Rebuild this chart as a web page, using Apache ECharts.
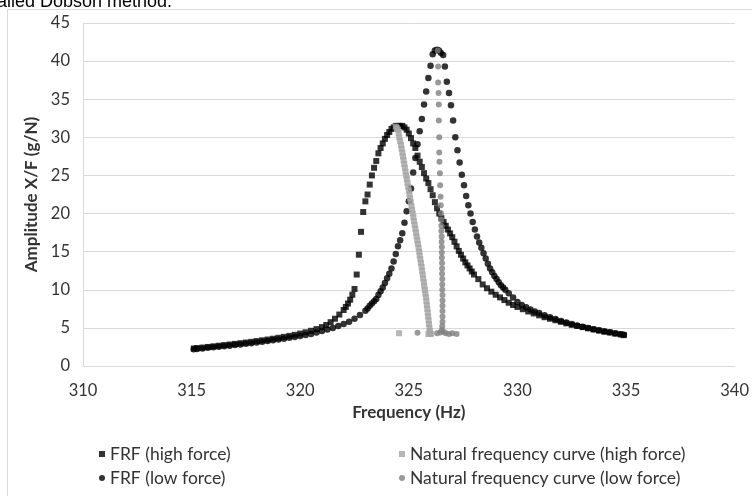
<!DOCTYPE html>
<html>
<head>
<meta charset="utf-8">
<script src="https://cdn.jsdelivr.net/npm/echarts@6/dist/echarts.min.js"></script>
<style>
  html, body { margin: 0; padding: 0; background: #ffffff; }
  #chart { width: 752px; height: 496px; }
</style>
</head>
<body>
<div id="chart"></div>
<script>
// ---- Data ----
const xTicks = [310, 315, 320, 325, 330, 335, 340];
const yTicks = [0, 5, 10, 15, 20, 25, 30, 35, 40, 45];

const seriesNames = [
  'FRF (high force)',
  'Natural frequency curve (high force)',
  'FRF (low force)',
  'Natural frequency curve (low force)'
];

// FRF (high force)
const frfHighFreq = [
  315.1, 315.25, 315.5, 315.75, 316.0, 316.25, 316.5, 316.75, 317.0, 317.25, 317.5, 317.75,
  318.0, 318.25, 318.5, 318.75, 319.0, 319.25, 319.5, 319.75, 320.0, 320.25, 320.5, 320.75,
  321.0, 321.2, 321.4, 321.6, 321.8, 322.0, 322.1, 322.2, 322.3, 322.4, 322.5, 322.6,
  322.7, 322.8, 322.9, 323.0, 323.1, 323.2, 323.3, 323.4, 323.5, 323.6, 323.7, 323.8,
  323.9, 324.0, 324.1, 324.2, 324.3, 324.4, 324.5, 324.6, 324.7, 324.8, 324.9, 325.0,
  325.1, 325.2, 325.3, 325.4, 325.5, 325.6, 325.7, 325.8, 325.9, 326.0, 326.1, 326.2,
  326.3, 326.4, 326.5, 326.6, 326.7, 326.8, 326.9, 327.0, 327.1, 327.2, 327.3, 327.4,
  327.5, 327.6, 327.7, 327.8, 327.9, 328.0, 328.2, 328.4, 328.6, 328.8, 329.0, 329.2,
  329.4, 329.6, 329.8, 330.0, 330.25, 330.5, 330.75, 331.0, 331.25, 331.5, 331.75, 332.0,
  332.25, 332.5, 332.75, 333.0, 333.25, 333.5, 333.75, 334.0, 334.25, 334.5, 334.75, 334.9
];
const frfHighAmp = [
  2.3, 2.35, 2.42, 2.5, 2.58, 2.66, 2.74, 2.82, 2.9, 2.99, 3.08, 3.17,
  3.27, 3.37, 3.47, 3.58, 3.7, 3.82, 3.95, 4.09, 4.25, 4.42, 4.62, 4.84,
  5.1, 5.38, 5.75, 6.2, 6.75, 7.35, 7.75, 8.2, 8.7, 9.35, 10.1, 12.0,
  14.6, 17.6, 20.2, 21.6, 22.5, 23.8, 25.0, 26.0, 26.9, 27.9, 28.6, 29.2,
  29.8, 30.3, 30.7, 31.1, 31.3, 31.5, 31.5, 31.5, 31.5, 31.3, 31.0, 30.5,
  29.9, 29.2, 28.6, 27.6, 26.8, 26.1, 25.3, 24.6, 24.0, 23.2, 22.4, 21.5,
  20.7, 20.0, 19.4, 18.9, 18.4, 17.9, 17.4, 16.9, 16.3, 15.7, 15.1, 14.6,
  14.1, 13.6, 13.2, 12.8, 12.4, 12.0, 11.4, 10.7, 10.2, 9.75, 9.35, 9.0,
  8.65, 8.3, 8.0, 7.75, 7.45, 7.15, 6.9, 6.65, 6.4, 6.2, 6.0, 5.8,
  5.6, 5.4, 5.25, 5.1, 4.95, 4.8, 4.65, 4.5, 4.4, 4.25, 4.15, 4.05
];

// FRF (low force)
const frfLowFreq = [
  315.1, 315.25, 315.5, 315.75, 316.0, 316.25, 316.5, 316.75, 317.0, 317.25, 317.5, 317.75,
  318.0, 318.25, 318.5, 318.75, 319.0, 319.25, 319.5, 319.75, 320.0, 320.25, 320.5, 320.75,
  321.0, 321.25, 321.5, 321.75, 322.0, 322.25, 322.5, 322.75, 323.0, 323.1, 323.2, 323.3,
  323.4, 323.5, 323.6, 323.7, 323.8, 323.9, 324.0, 324.1, 324.2, 324.3, 324.4, 324.5,
  324.6, 324.7, 324.8, 324.9, 325.0, 325.1, 325.2, 325.3, 325.4, 325.5, 325.6, 325.7,
  325.8, 325.9, 326.0, 326.1, 326.2, 326.3, 326.38, 326.47, 326.58, 326.66, 326.75, 326.85,
  326.94, 327.04, 327.14, 327.24, 327.34, 327.44, 327.54, 327.64, 327.74, 327.84, 327.94, 328.04,
  328.14, 328.24, 328.34, 328.44, 328.54, 328.64, 328.74, 328.84, 328.94, 329.04, 329.14, 329.24,
  329.34, 329.44, 329.6, 329.8, 330.0, 330.2, 330.4, 330.6, 330.8, 331.0, 331.25, 331.5,
  331.75, 332.0, 332.25, 332.5, 332.75, 333.0, 333.25, 333.5, 333.75, 334.0, 334.25, 334.5,
  334.75, 334.9
];
const frfLowAmp = [
  2.2, 2.24, 2.31, 2.38, 2.45, 2.52, 2.59, 2.67, 2.75, 2.83, 2.91, 3.0,
  3.09, 3.18, 3.27, 3.37, 3.47, 3.58, 3.69, 3.81, 3.94, 4.07, 4.21, 4.4,
  4.6, 4.8, 5.0, 5.25, 5.5, 5.8, 6.2, 6.7, 7.25, 7.55, 7.9, 8.2,
  8.5, 8.8, 9.3, 9.8, 10.3, 10.9, 11.5, 12.1, 12.8, 13.7, 14.7, 15.7,
  16.5, 17.4, 18.8, 20.3, 21.6, 23.3, 25.4, 27.3, 29.1, 30.8, 32.4, 34.3,
  36.0, 37.8, 39.4, 40.9, 41.4, 41.5, 41.4, 41.1, 40.8, 39.3, 37.3, 35.8,
  34.2, 32.2, 30.0, 28.3, 26.7, 25.1, 23.7, 22.3, 21.1, 20.0, 18.9, 17.9,
  17.0, 16.2, 15.5, 14.8, 14.1, 13.4, 12.8, 12.3, 11.8, 11.4, 11.0, 10.6,
  10.3, 10.0, 9.55, 9.0, 8.4, 8.0, 7.7, 7.4, 7.15, 6.95, 6.65, 6.4,
  6.15, 5.9, 5.7, 5.5, 5.32, 5.15, 4.98, 4.83, 4.68, 4.55, 4.42, 4.3,
  4.18, 4.1
];

// Natural frequency curve (high force)
const nfHighFreq = [
  324.40, 324.45, 324.50, 324.53, 324.56, 324.60, 324.64, 324.67, 324.70, 324.73, 324.76, 324.79,
  324.82, 324.85, 324.88, 324.91, 324.94, 324.97, 325.00, 325.03, 325.06, 325.09, 325.12, 325.15,
  325.18, 325.21, 325.24, 325.27, 325.30, 325.33, 325.36, 325.39, 325.42, 325.45, 325.48, 325.50,
  325.53, 325.56, 325.59, 325.61, 325.64, 325.66, 325.69, 325.71, 325.74, 325.76, 325.79, 325.81,
  325.83, 325.85, 325.87, 325.89, 325.91, 325.93, 325.95, 325.97, 325.98, 325.90, 326.02, 324.55
];
const nfHighAmp = [
  31.4, 31.2, 31.0, 30.5, 30.0, 29.5, 29.0, 28.5, 28.0, 27.5, 27.0, 26.5,
  26.0, 25.5, 25.0, 24.5, 24.0, 23.5, 23.0, 22.5, 22.0, 21.5, 21.0, 20.5,
  20.0, 19.5, 19.0, 18.5, 18.0, 17.5, 17.0, 16.5, 16.0, 15.5, 15.0, 14.5,
  14.0, 13.5, 13.0, 12.5, 12.0, 11.5, 11.0, 10.5, 10.0, 9.5, 9.0, 8.5,
  8.0, 7.5, 7.0, 6.5, 6.0, 5.5, 5.0, 4.6, 4.3, 4.2, 4.2, 4.3
];

// Natural frequency curve (low force)
const nfLowFreq = [
  326.33, 326.35, 326.35, 326.37, 326.38, 326.38, 326.40, 326.40, 326.41, 326.43, 326.44, 326.46,
  326.47, 326.48, 326.49, 326.50, 326.50, 326.51, 326.51, 326.52, 326.52, 326.52, 326.53, 326.53,
  326.53, 326.54, 326.54, 326.54, 326.55, 326.55, 326.55, 326.55, 326.55, 326.55, 326.54, 326.52,
  326.45, 326.60, 326.70, 326.85, 327.00, 327.20, 325.40, 326.30
];
const nfLowAmp = [
  41.4, 39.3, 37.2, 35.8, 34.3, 32.2, 30.0, 28.0, 26.8, 25.3, 23.7, 22.2,
  21.1, 20.0, 19.2, 18.4, 17.7, 17.0, 16.3, 15.6, 14.9, 14.2, 13.5, 12.8,
  12.1, 11.4, 10.7, 10.0, 9.3, 8.6, 7.9, 7.2, 6.5, 5.8, 5.2, 4.7,
  4.4, 4.5, 4.3, 4.2, 4.3, 4.2, 4.35, 4.3
];

// ---- Chart ----
function pairs(xs, ys) { return xs.map((x, i) => [x, ys[i]]); }

const FONT = 'Lato';
const TXT = '#333333';
const chart = echarts.init(document.getElementById('chart'), null, { renderer: 'canvas' });

const option = {
  backgroundColor: '#ffffff',
  animation: false,
  textStyle: { fontFamily: FONT },
  graphic: [
    {
      type: 'text', silent: true,
      style: {
        x: 172, y: 11, text: 'detailed Dobson method.',
        textAlign: 'right', textVerticalAlign: 'bottom',
        font: '18px "Liberation Sans", Arial, sans-serif', fill: '#000000'
      }
    },
    {
      type: 'rect', silent: true,
      shape: { x: 7.5, y: 9.5, width: 800, height: 600 },
      style: { fill: 'none', stroke: '#d9d9d9', lineWidth: 1 }
    }
  ],
  grid: { left: 83, right: 14, top: 23, bottom: 130, containLabel: false },
  xAxis: {
    type: 'value', min: xTicks[0], max: xTicks[xTicks.length - 1], interval: 5,
    name: 'Frequency (Hz)', nameLocation: 'middle', nameGap: 46,
    nameTextStyle: { fontFamily: FONT, fontSize: 17, fontWeight: 'bold', color: TXT, verticalAlign: 'middle' },
    axisLine: { show: true, lineStyle: { color: '#d9d9d9', width: 1 } },
    axisTick: { show: false },
    axisLabel: { color: TXT, fontSize: 16.5, margin: 16, fontFamily: FONT },
    splitLine: { show: false }
  },
  yAxis: {
    type: 'value', min: yTicks[0], max: yTicks[yTicks.length - 1], interval: 5,
    name: 'Amplitude X/F (g/N)', nameLocation: 'middle', nameGap: 48,
    nameTextStyle: { fontFamily: FONT, fontSize: 17, fontWeight: 'bold', color: TXT, verticalAlign: 'middle' },
    axisLine: { show: true, lineStyle: { color: '#d9d9d9', width: 1 } },
    axisTick: { show: false },
    axisLabel: { color: TXT, fontSize: 16.5, margin: 13, fontFamily: FONT },
    splitLine: { show: true, lineStyle: { color: '#d9d9d9', width: 1 } }
  },
  legend: [
    {
      orient: 'vertical', left: 94, top: 440, itemGap: 6,
      itemWidth: 6, itemHeight: 6,
      textStyle: { fontFamily: FONT, fontSize: 17.5, color: TXT, lineHeight: 18 },
      data: [
        { name: seriesNames[0], icon: 'rect' },
        { name: seriesNames[2], icon: 'circle' }
      ]
    },
    {
      orient: 'vertical', left: 394, top: 440, itemGap: 6,
      itemWidth: 6, itemHeight: 6,
      textStyle: { fontFamily: FONT, fontSize: 17.5, color: TXT, lineHeight: 18 },
      data: [
        { name: seriesNames[1], icon: 'rect' },
        { name: seriesNames[3], icon: 'circle' }
      ]
    }
  ],
  series: [
    {
      name: seriesNames[0], type: 'scatter', symbol: 'rect', symbolSize: 6,
      itemStyle: { color: '#000000' }, data: pairs(frfHighFreq, frfHighAmp), z: 2
    },
    {
      name: seriesNames[2], type: 'scatter', symbol: 'circle', symbolSize: 6.5,
      itemStyle: { color: '#000000' }, data: pairs(frfLowFreq, frfLowAmp), z: 3
    },
    {
      name: seriesNames[1], type: 'scatter', symbol: 'rect', symbolSize: 6,
      itemStyle: { color: '#a5a5a5' }, data: pairs(nfHighFreq, nfHighAmp), z: 4
    },
    {
      name: seriesNames[3], type: 'scatter', symbol: 'circle', symbolSize: 6,
      itemStyle: { color: '#7f7f7f' }, data: pairs(nfLowFreq, nfLowAmp), z: 5
    }
  ]
};
chart.setOption(option);
</script>
</body>
</html>
